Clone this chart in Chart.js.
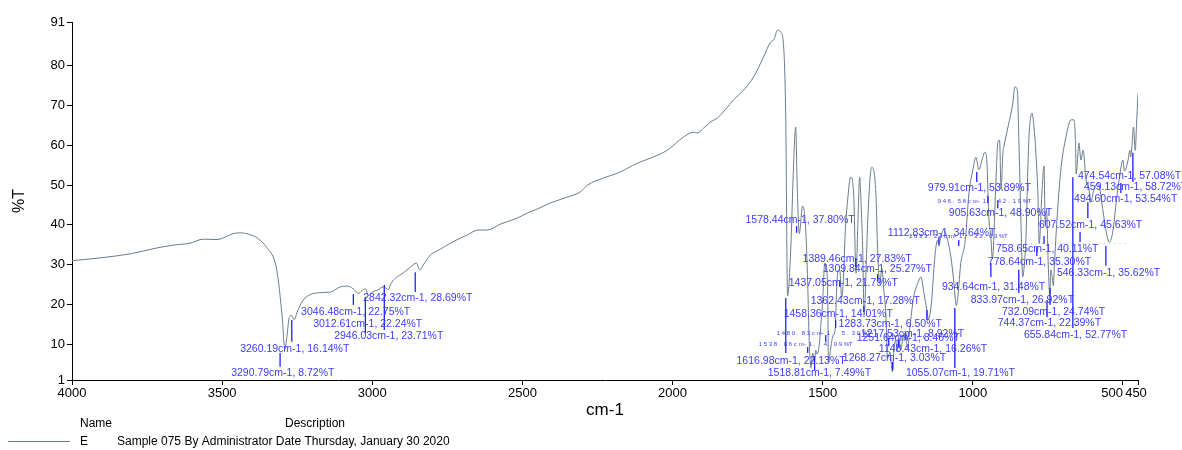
<!DOCTYPE html>
<html>
<head>
<meta charset="utf-8">
<title>Sample 075 - IR spectrum</title>
<script src="https://cdn.jsdelivr.net/npm/chart.js@4.4.1/dist/chart.umd.min.js"></script>
<style>
  html, body { margin: 0; padding: 0; background: #fff; }
  canvas { display: block; }
</style>
</head>
<body>
<canvas id="myChart" width="1182" height="450"></canvas>
<script>

// spectrum (cm-1 / %T)
const wavenumbers = [
  4000, 3907, 3807, 3717, 3663, 3607, 3563, 3517, 3463, 3440,
  3410, 3383, 3350, 3323, 3313, 3300, 3291, 3285, 3277, 3270,
  3260, 3250, 3230, 3183, 3140, 3107, 3083, 3063, 3046, 3035,
  3023, 3013, 3000, 2983, 2963, 2946, 2940, 2923, 2897, 2873,
  2853, 2842, 2830, 2807, 2773, 2740, 2683, 2647, 2617, 2573,
  2517, 2483, 2450, 2407, 2350, 2307, 2283, 2230, 2183, 2117,
  2073, 2017, 1963, 1930, 1917, 1897, 1873, 1850, 1797, 1763,
  1730, 1697, 1673, 1663, 1650, 1640, 1630, 1623, 1617, 1607,
  1597, 1590, 1585, 1578, 1567, 1557, 1550, 1545, 1539, 1533,
  1528, 1523, 1519, 1512, 1505, 1500, 1493, 1487, 1483, 1481,
  1475, 1467, 1458, 1455, 1450, 1443, 1437, 1432, 1425, 1417,
  1407, 1397, 1389, 1383, 1377, 1372, 1367, 1362, 1355, 1350,
  1337, 1323, 1317, 1310, 1303, 1297, 1290, 1284, 1276, 1268,
  1263, 1257, 1252, 1247, 1240, 1230, 1222, 1217, 1210, 1197,
  1183, 1173, 1163, 1153, 1148, 1137, 1130, 1123, 1117, 1113,
  1107, 1097, 1087, 1073, 1063, 1055, 1050, 1040, 1033, 1027,
  1023, 1013, 1000, 990, 980, 967, 960, 953, 947, 940,
  935, 923, 917, 911, 906, 900, 897, 883, 867, 860,
  852, 847, 840, 834, 830, 823, 817, 813, 803, 797,
  790, 783, 779, 770, 763, 759, 755, 748, 744, 740,
  736, 732, 728, 720, 707, 690, 673, 663, 658, 656,
  650, 647, 640, 633, 623, 613, 608, 597, 583, 567,
  557, 546, 533, 523, 513, 500, 495, 483, 477, 475,
  470, 465, 459, 455, 450
];
const transmittance = [
  31.0, 31.7, 32.7, 34.2, 34.9, 35.4, 36.4, 36.3, 37.8, 38.0,
  37.6, 36.7, 34.2, 30.4, 26.1, 16.8, 8.72, 11.5, 16.5, 17.3,
  16.14, 18.1, 21.1, 22.9, 23.1, 24.4, 24.6, 23.9, 22.75, 23.4,
  23.9, 22.24, 23.1, 23.6, 24.4, 23.71, 24.9, 26.6, 27.9, 29.4,
  30.4, 28.69, 29.9, 32.4, 33.9, 35.4, 37.5, 38.7, 38.7, 40.2,
  41.7, 43.0, 44.0, 45.5, 47.0, 48.3, 50.0, 51.8, 53.0, 55.5,
  56.8, 58.8, 62.1, 63.3, 63.1, 64.3, 65.9, 66.9, 71.4, 73.9,
  77.2, 82.2, 86.0, 86.5, 89.0, 88.5, 84.7, 66.4, 22.13, 32.9,
  55.0, 64.6, 50.0, 37.8, 44.7, 39.5, 25.4, 11.0, 4.09, 7.8,
  5.5, 8.5, 7.49, 9.5, 16.0, 21.1, 30.4, 29.4, 20.4, 5.3,
  8.0, 11.8, 14.01, 21.0, 27.9, 28.6, 21.79, 25.0, 38.0, 46.2,
  52.0, 48.0, 27.83, 40.0, 52.0, 45.0, 34.4, 17.28, 30.0, 41.2,
  54.5, 48.0, 33.7, 25.27, 29.0, 24.0, 17.8, 6.5, 8.0, 3.03,
  8.5, 11.0, 8.46, 11.8, 8.5, 12.8, 11.0, 8.92, 14.0, 21.9,
  25.4, 26.9, 22.9, 18.6, 16.26, 21.1, 28.7, 34.4, 36.2, 34.64,
  37.0, 38.7, 37.0, 31.9, 25.4, 19.71, 21.9, 30.5, 33.03, 35.0,
  38.0, 48.0, 53.8, 57.0, 53.89, 57.0, 58.3, 55.5, 42.19, 37.0,
  31.48, 51.3, 60.6, 61.3, 48.9, 58.0, 59.5, 64.6, 70.6, 74.7,
  73.9, 62.1, 41.2, 26.92, 28.7, 37.0, 53.8, 62.1, 68.1, 65.1,
  58.0, 47.0, 35.3, 48.0, 54.8, 40.11, 44.0, 28.0, 22.39, 28.7,
  27.0, 24.74, 30.4, 41.2, 53.8, 62.1, 66.4, 66.4, 60.0, 52.77,
  58.0, 60.6, 56.3, 58.8, 51.3, 48.8, 45.63, 48.8, 50.5, 43.7,
  38.7, 35.62, 38.7, 45.5, 51.3, 56.3, 53.54, 56.3, 58.8, 57.08,
  60.0, 64.6, 58.72, 65.0, 73.0
];

const xTicks = [4000, 3500, 3000, 2500, 2000, 1500, 1000, 500, 450];
const yTicks = [1, 10, 20, 30, 40, 50, 60, 70, 80, 91];

// picked peaks
const peakWn = [
  3290.79, 3260.19, 3046.48, 3012.61, 2946.03, 2842.32, 1616.98, 1578.44, 1538.86, 1518.81,
  1480.83, 1458.36, 1437.05, 1389.46, 1362.43, 1309.84, 1283.73, 1268.27, 1251.64, 1217.53,
  1148.43, 1112.83, 1055.07, 1033.24, 979.91, 946.58, 934.64, 905.63, 833.97, 778.64,
  758.65, 744.37, 732.09, 655.84, 607.52, 546.33, 494.60, 474.54, 459.13
];
const peakT = [
  8.72, 16.14, 22.75, 22.24, 23.71, 28.69, 22.13, 37.80, 4.09, 7.49,
  5.30, 14.01, 21.79, 27.83, 17.28, 25.27, 6.50, 3.03, 8.46, 8.92,
  16.26, 34.64, 19.71, 33.03, 53.89, 42.19, 31.48, 48.90, 26.92, 35.30,
  40.11, 22.39, 24.74, 52.77, 45.63, 35.62, 53.54, 57.08, 58.72
];
// squeezed labels (drawn tiny, letter-spaced)
const tinyPeaks = [1538.86, 1480.83, 1033.24, 946.58];

// where the peak tags sit, in axis units: [marker cm-1, marker top %T, marker bottom %T, label cm-1, label %T]
const tagLayout = [
  [3307, 7.8, 4.3, 3470, 2.7], [3268, 16.1, 10.6, 3440, 8.8], [3063, 22.6, 19.9, 3237, 18.1],
  [3023, 21.9, 12.8, 3197, 15.1], [2960, 24.9, 13.6, 3127, 12.1], [2857, 28.1, 23.1, 3030, 21.6],
  [1623, 21.6, 7.8, 1787, 5.8], [1587, 39.7, 38.0, 1757, 41.2], [1550, 9.3, 7.8, 1713, 10.0],
  [1527, 7.0, 3.5, 1683, 2.7], [1490, 12.3, 10.6, 1653, 12.8], [1457, 16.1, 14.1, 1630, 17.6],
  [1443, 26.1, 24.4, 1613, 25.4], [1390, 31.7, 29.4, 1567, 31.4], [1363, 19.6, 18.1, 1540, 20.9],
  [1317, 27.6, 25.9, 1500, 28.9], [1280, 11.6, 9.5, 1447, 15.1], [1267, 5.5, 3.5, 1433, 6.5],
  [1247, 11.1, 9.3, 1387, 11.6], [1223, 12.8, 11.1, 1373, 12.6], [1153, 18.6, 16.1, 1313, 8.8],
  [1113, 37.0, 35.2, 1283, 38.0], [1060, 19.1, 4.0, 1223, 2.7], [1047, 36.2, 34.7, 1213, 37.0],
  [987, 53.3, 50.8, 1150, 49.3], [950, 47.3, 45.5, 1117, 46.0], [940, 30.4, 26.9, 1103, 24.4],
  [917, 46.2, 44.2, 1080, 43.0], [847, 28.7, 22.9, 1007, 21.1], [787, 34.4, 32.2, 950, 30.7],
  [763, 37.2, 35.2, 923, 33.9], [753, 21.1, 16.8, 917, 15.3], [743, 24.1, 19.9, 903, 18.1],
  [667, 52.0, 14.1, 830, 12.3], [643, 38.2, 35.7, 780, 40.0], [557, 34.7, 29.7, 720, 27.9],
  [617, 45.7, 41.7, 663, 46.5], [507, 50.5, 48.0, 650, 52.3], [467, 58.1, 50.8, 630, 49.5]
];

const lineColor = '#6b7b8c';
const tagColor = '#3b3bff';
const font = 'Arial, "Liberation Sans", sans-serif';

function tagText(i) {
  return peakWn[i].toFixed(2) + 'cm-1, ' + peakT[i].toFixed(2) + '%T';
}

function spacedText(ctx, text, x, y, step) {
  for (let k = 0; k < text.length; k++) {
    ctx.fillText(text[k], x + k * step, y);
  }
}

const peakTags = {
  id: 'peakTags',
  afterDatasetsDraw(chart) {
    const ctx = chart.ctx;
    const sx = chart.scales.x;
    const sy = chart.scales.y;
    ctx.save();

    ctx.strokeStyle = '#1f1fff';
    ctx.lineWidth = 1.3;
    tagLayout.forEach(t => {
      const px = sx.getPixelForValue(t[0]);
      ctx.beginPath();
      ctx.moveTo(px, sy.getPixelForValue(t[1]));
      ctx.lineTo(px, sy.getPixelForValue(t[2]));
      ctx.stroke();
    });

    ctx.fillStyle = tagColor;
    ctx.textBaseline = 'middle';
    ctx.textAlign = 'left';
    tagLayout.forEach((t, i) => {
      const lx = sx.getPixelForValue(t[3]);
      const ly = sy.getPixelForValue(t[4]);
      if (tinyPeaks.includes(peakWn[i])) {
        ctx.font = '6px ' + font;
        spacedText(ctx, tagText(i), lx, ly, 5);
      } else {
        ctx.font = '10.5px ' + font;
        ctx.fillText(tagText(i), lx, ly);
      }
    });
    // row of squashed dots left of 546 cm-1
    ctx.font = '6px ' + font;
    spacedText(ctx, '...................', sx.getPixelForValue(807), sy.getPixelForValue(35.7), 5.2);
    ctx.restore();
  },
  afterDraw(chart) {
    const ctx = chart.ctx;
    const area = chart.chartArea;
    const sx = chart.scales.x;
    ctx.save();
    ctx.fillStyle = '#000';

    // x tick labels: 500 and 450 sit side by side, so 500 hangs left of its tick
    ctx.font = '13px ' + font;
    ctx.textBaseline = 'top';
    xTicks.forEach(v => {
      ctx.textAlign = v === 500 ? 'right' : 'center';
      const shift = v === 450 ? -2 : 0;
      ctx.fillText(String(v), sx.getPixelForValue(v) + shift, area.bottom + 7);
    });

    // axis titles
    ctx.font = '17px ' + font;
    ctx.textAlign = 'center';
    ctx.textBaseline = 'middle';
    ctx.fillText('cm-1', (area.left + area.right) / 2, 410);
    ctx.save();
    ctx.translate(20, (area.top + area.bottom) / 2);
    ctx.rotate(-Math.PI / 2);
    ctx.font = '16px ' + font;
    ctx.fillText('%T', 0, 0);
    ctx.restore();

    // name / description box under the plot
    ctx.font = '12px ' + font;
    ctx.textAlign = 'left';
    ctx.fillText('Name', 80, 424);
    ctx.fillText('Description', 285, 424);
    ctx.fillText('E', 80, 442);
    ctx.fillText('Sample 075 By Administrator Date Thursday, January 30 2020', 117, 442);
    ctx.strokeStyle = lineColor;
    ctx.lineWidth = 1;
    ctx.beginPath();
    ctx.moveTo(8, 441.5);
    ctx.lineTo(70, 441.5);
    ctx.stroke();
    ctx.restore();
  }
};

const ctx = document.getElementById('myChart').getContext('2d');

const chartInstance = new Chart(ctx, {
  type: 'line',
  data: {
    datasets: [{
      label: 'E',
      data: wavenumbers.map((w, i) => ({ x: w, y: transmittance[i] })),
      borderColor: lineColor,
      borderWidth: 1,
      pointRadius: 0,
      fill: false,
      cubicInterpolationMode: 'monotone'
    }]
  },
  options: {
    responsive: false,
    animation: false,
    devicePixelRatio: 1,
    layout: { padding: { top: 22, right: 44, left: 0, bottom: 0 } },
    plugins: {
      legend: { display: false },
      tooltip: { enabled: false }
    },
    scales: {
      x: {
        type: 'linear',
        reverse: true,
        min: 450,
        max: 4000,
        afterBuildTicks: s => { s.ticks = xTicks.map(v => ({ value: v })); },
        afterFit: s => { s.height = 70; },
        grid: { drawOnChartArea: false, drawTicks: true, tickLength: 5, color: '#000' },
        border: { display: true, color: '#000', width: 1 },
        ticks: { display: false }
      },
      y: {
        min: 1,
        max: 91,
        afterBuildTicks: s => { s.ticks = yTicks.map(v => ({ value: v })); },
        afterFit: s => { s.width = 72; },
        grid: { drawOnChartArea: false, drawTicks: true, tickLength: 5, color: '#000' },
        border: { display: true, color: '#000', width: 1 },
        ticks: {
          padding: 2,
          color: '#000',
          font: { family: font, size: 13 }
        }
      }
    }
  },
  plugins: [peakTags]
});
</script>
</body>
</html>
